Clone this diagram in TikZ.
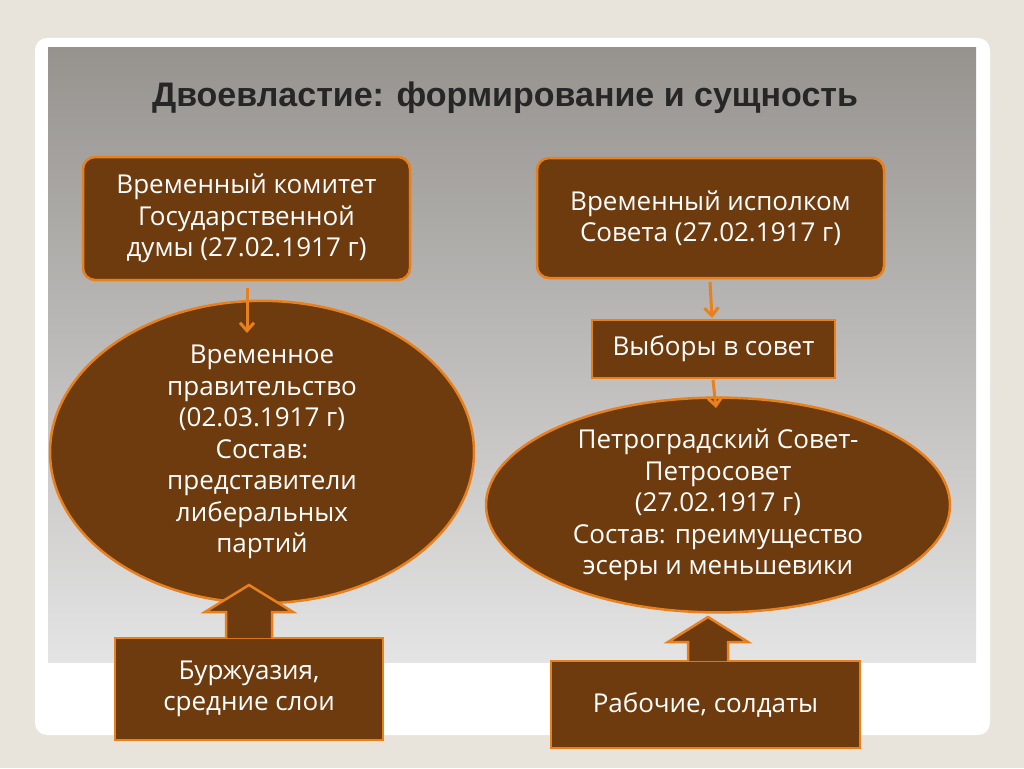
\documentclass[tikz,border=0pt]{standalone}
\usepackage{fontspec}
\setmainfont{Open Sans}
\newfontfamily\titlefont{Liberation Sans}
\usetikzlibrary{shapes.geometric,arrows.meta}
\definecolor{brn}{HTML}{6E3B0E}
\definecolor{org}{HTML}{E8801E}
\tikzset{
 bx/.style={draw=org,line width=2.5pt,fill=brn,text=white,align=center,font=\fontsize{26}{31.5}\selectfont},
 el/.style={bx,ellipse,inner sep=0pt},
 sa/.style={draw=org,line width=3pt,-{Straight Barb[length=8pt,width=14pt]}},
 ba/.style={draw=org,line width=2.5pt,fill=brn}
}
\begin{document}
\begin{tikzpicture}[x=1pt,y=-1pt]
\useasboundingbox (0,0) rectangle (1024,768);
\fill[color={rgb,255:red,232;green,228;blue,220}] (0,0) rectangle (1024,768);
\fill[white,rounded corners=12pt] (35,38) rectangle (990,735);
\shade[top color={rgb,255:red,150;green,147;blue,143},bottom color={rgb,255:red,228;green,228;blue,228}] (48,48) rectangle (976,662);
\node (t) at (505,98) {\titlefont\bfseries\fontsize{34}{38}\selectfont\color{black!85}Двоевластие: формирование и сущность};
\node[bx,rounded corners=12pt,minimum width=327pt,minimum height=123pt] (k) at (246.5,218.5) {Временный комитет\\Государственной\\думы (27.02.1917 г)};
\node[bx,rounded corners=12pt,minimum width=347pt,minimum height=120pt] (i) at (710.5,218) {Временный исполком\\Совета (27.02.1917 г)};
\node[bx,minimum width=243pt,minimum height=58pt] (v) at (713.5,349) {Выборы в совет};
\node[el,minimum width=424pt,minimum height=224pt] (p) at (262,452) {Временное\\правительство\\(02.03.1917 г)\\Состав:\\представители\\либеральных\\партий};
\node[el,minimum width=464pt,minimum height=190pt] (s) at (718,505) {Петроградский Совет-\\Петросовет\\(27.02.1917 г)\\Состав: преимущество\\эсеры и меньшевики};
\node[bx,minimum width=268pt,minimum height=102pt] (b) at (249,689) {Буржуазия,\\средние слои};
\node[bx,minimum width=309pt,minimum height=87pt] (r) at (705.5,704.5) {Рабочие, солдаты};
\draw[sa] (247,288) -- (247,333);
\draw[sa] (710,282) -- (712,318);
\draw[sa] (713,380) -- (716,408);
\draw[ba] (226,638) -- (226,612) -- (205,612) -- (249,585) -- (293,612) -- (272,612) -- (272,638);
\draw[ba] (688,661) -- (688,642) -- (668,642) -- (708,617) -- (748,642) -- (728,642) -- (728,661);
\end{tikzpicture}
\end{document}
